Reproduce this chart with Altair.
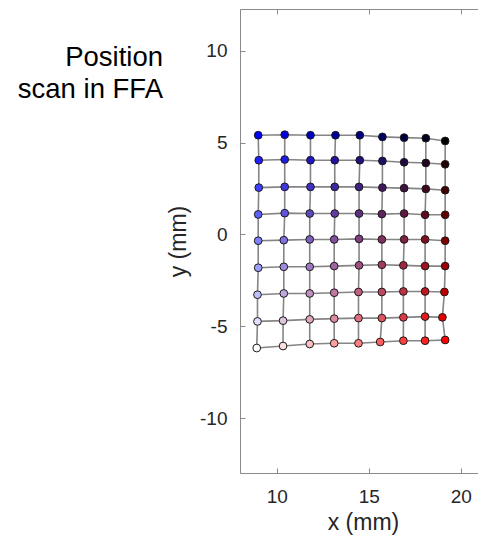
import altair as alt
import pandas as pd

# grid positions (rows top -> bottom, columns left -> right)
x_rows = [
    [8.99, 10.43, 11.83, 13.19, 14.51, 15.74, 16.92, 18.10, 19.15],
    [9.02, 10.43, 11.83, 13.15, 14.51, 15.74, 16.92, 18.10, 19.15],
    [9.02, 10.43, 11.83, 13.15, 14.47, 15.74, 16.92, 18.10, 19.15],
    [8.99, 10.43, 11.79, 13.15, 14.47, 15.71, 16.92, 18.06, 19.15],
    [8.99, 10.38, 11.79, 13.12, 14.47, 15.71, 16.92, 18.06, 19.15],
    [8.99, 10.38, 11.79, 13.12, 14.47, 15.71, 16.88, 18.06, 19.15],
    [8.95, 10.38, 11.79, 13.12, 14.44, 15.71, 16.88, 18.06, 19.11],
    [8.95, 10.34, 11.79, 13.12, 14.44, 15.71, 16.88, 18.06, 19.00],
    [8.91, 10.34, 11.79, 13.12, 14.44, 15.62, 16.88, 18.06, 19.15],
]
y_rows = [
    [5.40, 5.43, 5.40, 5.40, 5.40, 5.31, 5.27, 5.24, 5.09],
    [4.04, 4.08, 4.04, 4.04, 4.04, 4.00, 3.93, 3.89, 3.82],
    [2.55, 2.59, 2.59, 2.59, 2.59, 2.55, 2.52, 2.48, 2.41],
    [1.09, 1.16, 1.14, 1.14, 1.14, 1.11, 1.14, 1.07, 1.07],
    [-0.34, -0.31, -0.27, -0.27, -0.24, -0.27, -0.27, -0.27, -0.34],
    [-1.81, -1.76, -1.76, -1.72, -1.68, -1.65, -1.68, -1.72, -1.72],
    [-3.28, -3.21, -3.21, -3.17, -3.13, -3.13, -3.10, -3.10, -3.13],
    [-4.73, -4.69, -4.62, -4.58, -4.55, -4.55, -4.51, -4.47, -4.51],
    [-6.18, -6.07, -5.96, -5.92, -5.92, -5.85, -5.78, -5.78, -5.74],
]
x_ticks = [10, 15, 20]
y_ticks = [-10, -5, 0, 5, 10]
title_lines = ["Position", "scan in FFA"]

n_rows = len(x_rows)
n_cols = len(x_rows[0])


def corner_color(r, c):
    # bivariate map: top-left blue, top-right black, bottom-left white, bottom-right red
    u = c / (n_cols - 1)
    v = r / (n_rows - 1)
    R = 255 * v
    G = 255 * (1 - u) * v
    B = 255 * (1 - u)
    return "#%02x%02x%02x" % (round(R), round(G), round(B))


pts = []
for r in range(n_rows):
    for c in range(n_cols):
        pts.append({"x": x_rows[r][c], "y": y_rows[r][c], "row": r, "col": c,
                    "color": corner_color(r, c)})
points_df = pd.DataFrame(pts)

segs = []
for r in range(n_rows):
    for c in range(n_cols):
        segs.append({"x": x_rows[r][c], "y": y_rows[r][c], "line": f"r{r}", "seq": c})
for c in range(n_cols):
    for r in range(n_rows):
        segs.append({"x": x_rows[r][c], "y": y_rows[r][c], "line": f"c{c}", "seq": r})
lines_df = pd.DataFrame(segs)

FONT = "Liberation Sans"
AX = "#8a8a8a"
W = 238
H = 464

x_scale = alt.Scale(domain=[8, 20.935], nice=False, zero=False)
y_scale = alt.Scale(domain=[-12.98, 12.27], nice=False, zero=False)

y_enc = alt.Y("y:Q", scale=y_scale, axis=alt.Axis(
    values=y_ticks, title="y (mm)", ticks=False, grid=True,
    labelExpr="'' + datum.value",
    gridDash=[5, 1000], gridColor=AX, gridWidth=1,
    domainColor=AX, domainWidth=1, labelFont=FONT, labelFontSize=19,
    labelColor="#262626", labelPadding=13, titleFont=FONT, titleFontSize=23,
    titleFontWeight="normal", titleColor="#262626", titleX=-62,
    titleBaseline="middle"))

lines = alt.Chart(lines_df).mark_line(color="#858585", strokeWidth=1.6).encode(
    x=alt.X("x:Q", scale=x_scale, axis=alt.Axis(
        values=x_ticks, title="x (mm)", orient="bottom", ticks=False, grid=True,
        gridDash=[5, H - 10, 5, 1000], gridColor=AX, gridWidth=1,
        domainColor=AX, domainWidth=1, labelFont=FONT, labelFontSize=19,
        labelColor="#262626", labelPadding=14, titleFont=FONT, titleFontSize=23,
        titleFontWeight="normal", titleColor="#262626", titleBaseline="alphabetic",
        titleX=123, titleY=56)),
    y=y_enc,
    detail="line:N",
    order="seq:Q",
)

points = alt.Chart(points_df).mark_circle(size=60, opacity=1, stroke="#1a1a1a",
                                          strokeWidth=1).encode(
    x=alt.X("x:Q", scale=x_scale, axis=alt.Axis(
        orient="top", labels=False, ticks=False, grid=False, title=None,
        domainColor=AX, domainWidth=1)),
    y=y_enc,
    color=alt.Color("color:N", scale=None),
)

chart = alt.layer(lines, points).resolve_axis(x="independent").properties(
    width=W, height=H,
    autosize=alt.AutoSizeParams(type="none"),
    padding={"left": 232, "top": 1, "right": 0, "bottom": 64},
    title=alt.TitleParams(text=title_lines, orient="top", anchor="start",
                          frame="group", align="right", baseline="alphabetic",
                          dx=-77, dy=116, offset=0, font=FONT, fontSize=27.5,
                          fontWeight="normal", color="black", lineHeight=32),
).configure_view(stroke=None).configure(background="white")

chart.save("out.html", embed_options={"renderer": "svg", "actions": False})
